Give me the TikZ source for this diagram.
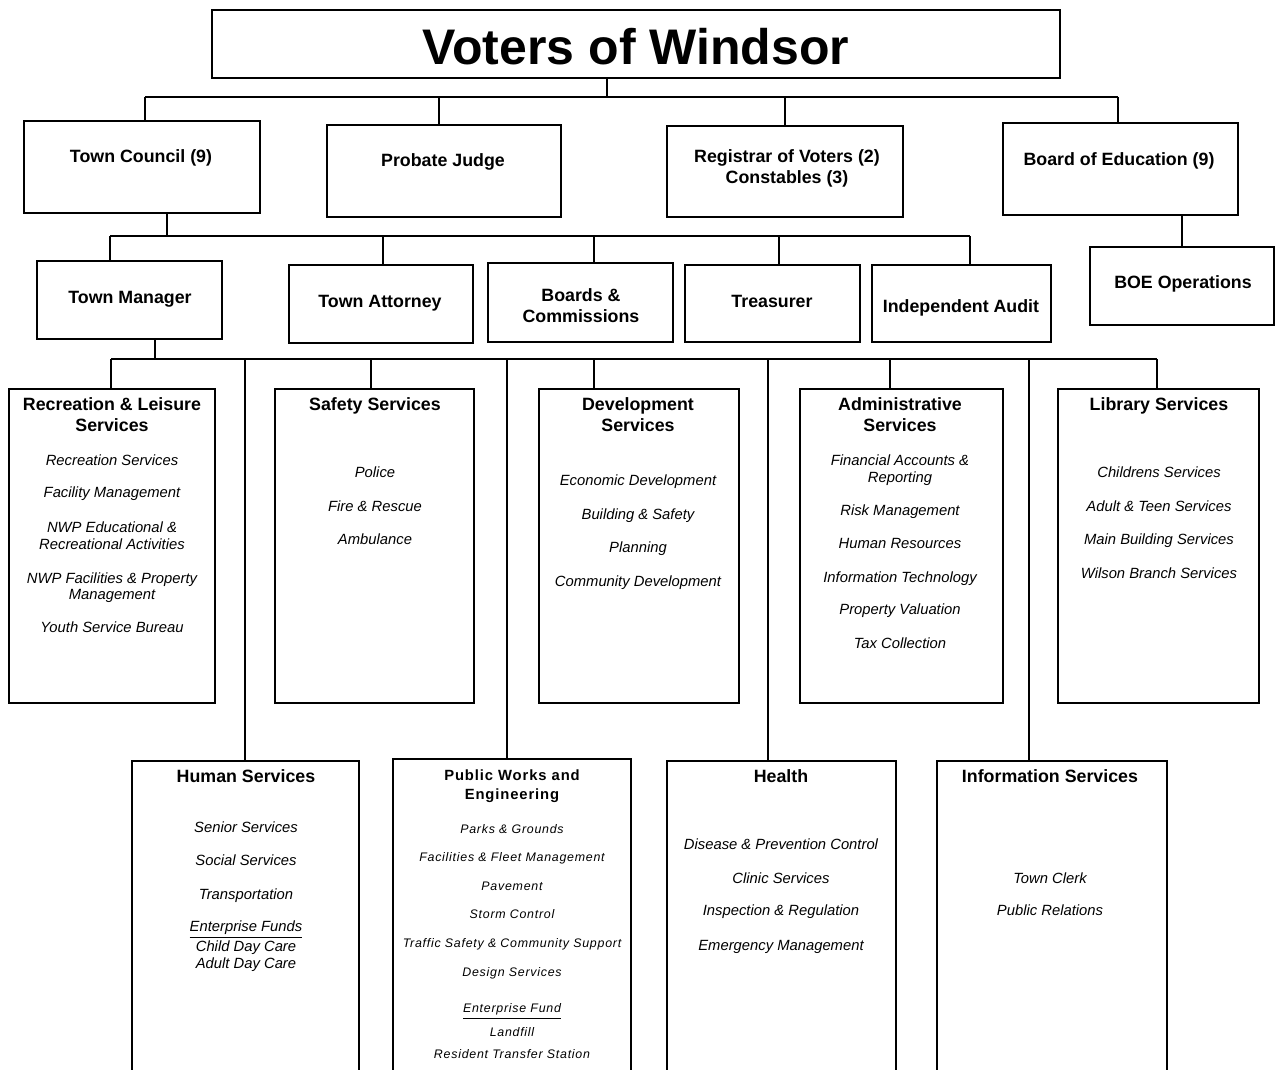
\documentclass[tikz,border=0pt]{standalone}
\usepackage{fontspec}
\setmainfont{Liberation Sans}
\newfontfamily\spacedsans[LetterSpace=6]{Liberation Sans}
\usetikzlibrary{fit}
\newcommand\pin{\rule[-0.242em]{0pt}{1.2em}}

\begin{document}
\begin{tikzpicture}[x=0.5pt, y=-0.5pt,
        every node/.append style={inner sep=0pt, align=center},
        box/.style={draw, line width=1.3pt, fit={#1}},
        thinbox/.style={draw, line width=0.6pt, fit={#1}},
        wire/.style={line width=1pt}]
      \tikzstyle{txt} = [execute at begin node=\pin, execute at end node=\pin]
      \tikzstyle{head} = [txt, font=\fontsize{8.9}{10.5}\selectfont\bfseries]
      \tikzstyle{item} = [txt, font=\fontsize{7.4}{8.25}\selectfont\itshape]
      \tikzstyle{smallhead} = [txt, font=\spacedsans\fontsize{7.4}{9.5}\selectfont\bfseries]
      \tikzstyle{smallitem} = [txt, font=\spacedsans\fontsize{6.2}{7.5}\selectfont\itshape]
      \useasboundingbox (0,0) rectangle (1275,1070);
      \clip (0,0) rectangle (1275,1070);

      \node[box={(212,10) (1060,78)}] (voters) {};
      \node[txt, font=\fontsize{25}{30}\selectfont\bfseries] (votersT) at (636,47) {Voters of Windsor};

      \node[box={(24,121) (260,213)}] (council) {};
      \node[head] (councilT) at (141,156) {Town Council (9)};
      \node[box={(327,125) (561,217)}] (probate) {};
      \node[head] (probateT) at (443,160) {Probate Judge};
      \node[box={(667,126) (903,217)}] (registrar) {};
      \node[head] (registrarT) at (787,168.5) {Registrar of Voters (2)\\Constables (3)};
      \node[box={(1003,123) (1238,215)}] (boe) {};
      \node[head] (boeT) at (1119,159) {Board of Education (9)};
      \node[box={(1090,247) (1274,325)}] (boeops) {};
      \node[head] (boeopsT) at (1183,282) {BOE Operations};

      \node[box={(37,261) (222,339)}] (manager) {};
      \node[head] (managerT) at (130,297) {Town Manager};
      \node[box={(289,265) (473,343)}] (attorney) {};
      \node[head] (attorneyT) at (380,301) {Town Attorney};
      \node[box={(488,263) (673,342)}] (boards) {};
      \node[head] (boardsT) at (581,308) {Boards \&\\Commissions};
      \node[box={(685,265) (860,342)}] (treasurer) {};
      \node[head] (treasurerT) at (772,301) {Treasurer};
      \node[box={(872,265) (1051,342)}] (audit) {};
      \node[head] (auditT) at (961,306) {Independent Audit};

      \node[box={(9,389) (215,703)}] (rec) {};
      \node[head] (recT) at (112,417) {Recreation \& Leisure\\Services};
      \foreach \t/\y [count=\i] in {Recreation Services/460, Facility Management/492,
          {NWP Educational \&\\Recreational Activities}/537.5,
          {NWP Facilities \& Property\\Management}/588, Youth Service Bureau/627}
        \node[item] (rec-\i) at (112,\y) {\t};

      \node[box={(275,389) (474,703)}] (safety) {};
      \node[head] (safetyT) at (375,404) {Safety Services};
      \foreach \t/\y [count=\i] in {Police/472, Fire \& Rescue/506, Ambulance/539}
        \node[item] (safety-\i) at (375,\y) {\t};

      \node[box={(539,389) (739,703)}] (dev) {};
      \node[head] (devT) at (638,417) {Development\\Services};
      \foreach \t/\y [count=\i] in {Economic Development/480, Building \& Safety/514,
          Planning/547, Community Development/581}
        \node[item] (dev-\i) at (638,\y) {\t};

      \node[box={(800,389) (1003,703)}] (admin) {};
      \node[head] (adminT) at (900,417) {Administrative\\Services};
      \foreach \t/\y [count=\i] in {{Financial Accounts \&\\Reporting}/470.5, Risk Management/510,
          Human Resources/543, Information Technology/577, Property Valuation/609,
          Tax Collection/643}
        \node[item] (admin-\i) at (900,\y) {\t};

      \node[box={(1058,389) (1259,703)}] (library) {};
      \node[head] (libraryT) at (1159,404) {Library Services};
      \foreach \t/\y [count=\i] in {Childrens Services/472, Adult \& Teen Services/506,
          Main Building Services/539, Wilson Branch Services/573}
        \node[item] (library-\i) at (1159,\y) {\t};

      \node[box={(132,761) (359,1090)}] (human) {};
      \node[head] (humanT) at (246,776) {Human Services};
      \foreach \t/\y [count=\i] in {Senior Services/827, Social Services/860, Transportation/894,
          {\underline{Enterprise Funds}\\Child Day Care\\Adult Day Care}/946.5}
        \node[item] (human-\i) at (246,\y) {\t};

      \node[thinbox={(393,759) (631,1090)}] (works) {};
      \node[smallhead] (worksT) at (512,786.5) {Public Works and\\Engineering};
      \foreach \t/\y [count=\i] in {Parks \& Grounds/829, Facilities \& Fleet Management/857,
          Pavement/886, Storm Control/914, Traffic Safety \& Community Support/943,
          Design Services/972, \underline{Enterprise Fund}/1010, Landfill/1032,
          Resident Transfer Station/1054}
        \node[smallitem] (works-\i) at (512,\y) {\t};

      \node[box={(667,761) (896,1090)}] (health) {};
      \node[head] (healthT) at (781,776) {Health};
      \foreach \t/\y [count=\i] in {Disease \& Prevention Control/844, Clinic Services/878,
          Inspection \& Regulation/910, Emergency Management/945}
        \node[item] (health-\i) at (781,\y) {\t};

      \node[box={(937,761) (1167,1090)}] (info) {};
      \node[head] (infoT) at (1050,776) {Information Services};
      \foreach \t/\y [count=\i] in {Town Clerk/878, Public Relations/910}
        \node[item] (info-\i) at (1050,\y) {\t};

      \coordinate (topBus) at (607,97);
      \path (145,97) coordinate (tap-council) (439,97) coordinate (tap-probate)
            (785,97) coordinate (tap-registrar) (1118,97) coordinate (tap-boe);
      \draw[wire] (voters.south -| topBus) -- (topBus);
      \draw[wire] (tap-council) -- (tap-boe);
      \foreach \n in {council, probate, registrar, boe}
        \draw[wire] (tap-\n) -- (tap-\n |- \n.north);
      \draw[wire] (boeops.north) -- (boeops.north |- boe.south);

      \coordinate (midBus) at (167,236);
      \path (110,236) coordinate (tap-manager) (383,236) coordinate (tap-attorney)
            (594,236) coordinate (tap-boards) (779,236) coordinate (tap-treasurer)
            (970,236) coordinate (tap-audit);
      \draw[wire] (council.south -| midBus) -- (midBus);
      \draw[wire] (tap-manager) -- (tap-audit);
      \foreach \n in {manager, attorney, boards, treasurer, audit}
        \draw[wire] (tap-\n) -- (tap-\n |- \n.north);

      \coordinate (lowBus) at (155,359);
      \foreach \n/\x in {rec/111, human/245, safety/371, works/507, dev/594,
          health/768, admin/890, info/1029, library/1157}
        \coordinate (tap-\n) at (\x,359);
      \draw[wire] (manager.south -| lowBus) -- (lowBus);
      \draw[wire] (tap-rec) -- (tap-library);
      \foreach \n in {rec, human, safety, works, dev, health, admin, info, library}
        \draw[wire] (tap-\n) -- (tap-\n |- \n.north);
    \end{tikzpicture}
\end{document}
